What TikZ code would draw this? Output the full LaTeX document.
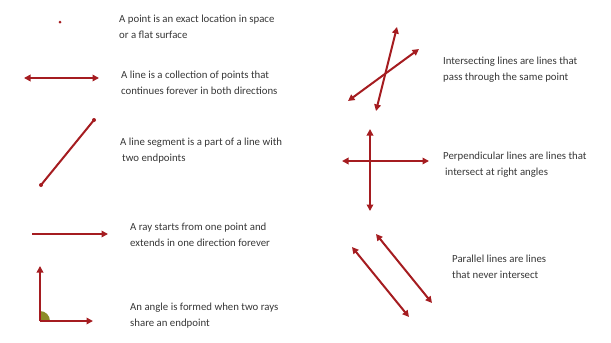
\documentclass[tikz,border=0pt]{standalone}
\usepackage{fontspec}
\setmainfont{Carlito}
\usetikzlibrary{arrows.meta}
\definecolor{linered}{RGB}{165,28,32}
\definecolor{txtgray}{RGB}{55,55,55}
\definecolor{angfill}{RGB}{140,140,40}
\tikzset{
  geoline/.style={draw=linered, line width=2pt},
  tip/.style={-{Triangle[length=6.5pt,width=6.5pt]}},
  bitip/.style={{Triangle[length=6.5pt,width=6.5pt]}-{Triangle[length=6.5pt,width=6.5pt]}},
  desc/.style={anchor=west, inner sep=0pt, text=txtgray, align=left, font=\fontsize{10.8}{15.8}\selectfont},
  dotp/.style={circle, fill=linered, inner sep=0pt, minimum size=4pt}
}
\begin{document}
\begin{tikzpicture}[x=1pt,y=-1pt]
\useasboundingbox (0,0) rectangle (611,343);
% point
\node[dotp, minimum size=3pt] (pt) at (60,22) {};
\node[desc] (t1) at (119,27) {A point is an exact location in space\\or a flat surface};
% line
\coordinate (l1) at (24,78);
\coordinate (l2) at (99,78);
\draw[geoline, bitip] (l1) -- (l2);
\node[desc] (t2) at (121,83) {A line is a collection of points that\\continues forever in both directions};
% segment
\node[dotp] (s1) at (41,185) {};
\node[dotp] (s2) at (94,120) {};
\draw[geoline] (s1.center) -- (s2.center);
\node[desc] (t3) at (120,151) {A line segment is a part of a line with\\\hspace{2pt}two endpoints};
% ray
\coordinate (r1) at (32,234);
\coordinate (r2) at (108,234);
\draw[geoline, tip] (r1) -- (r2);
\node[desc] (t4) at (130,235) {A ray starts from one point and\\extends in one direction forever};
% angle
\coordinate (a0) at (40,321);
\coordinate (a1) at (40,266);
\coordinate (a2) at (93,321);
\fill[angfill] (a0) -- ++(10,0) arc[start angle=0,end angle=-90,radius=10] -- cycle;
\draw[geoline, tip] (a0) -- (a1);
\draw[geoline, tip] (a0) -- (a2);
\node[desc] (t5) at (130,316) {An angle is formed when two rays\\share an endpoint};
% intersecting
\coordinate (i1) at (376,111);
\coordinate (i2) at (397,27);
\coordinate (i3) at (348,101);
\coordinate (i4) at (419,49);
\draw[geoline, bitip] (i1) -- (i2);
\draw[geoline, bitip] (i3) -- (i4);
\node[desc] (t6) at (443,70) {Intersecting lines are lines that\\pass through the same point};
% perpendicular
\coordinate (p1) at (342,161);
\coordinate (p2) at (429,161);
\coordinate (p3) at (370,129);
\coordinate (p4) at (370,211);
\draw[geoline, bitip] (p1) -- (p2);
\draw[geoline, bitip] (p3) -- (p4);
\node[desc] (t7) at (443,165) {Perpendicular lines are lines that\\\hspace{2pt}intersect at right angles};
% parallel
\coordinate (q1) at (352,247);
\coordinate (q2) at (409,317);
\coordinate (q3) at (376,234);
\coordinate (q4) at (432,303);
\draw[geoline, bitip] (q1) -- (q2);
\draw[geoline, bitip] (q3) -- (q4);
\node[desc] (t8) at (452,267) {Parallel lines are lines\\that never intersect};
\end{tikzpicture}
\end{document}
